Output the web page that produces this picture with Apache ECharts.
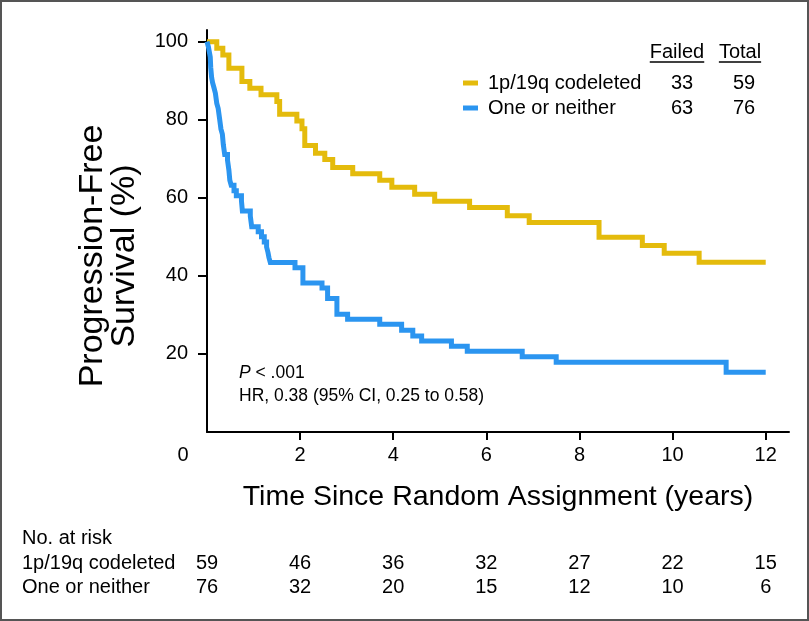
<!DOCTYPE html>
<html><head><meta charset="utf-8">
<script src="https://cdn.jsdelivr.net/npm/echarts@6/dist/echarts.min.js"></script>
<style>html,body{margin:0;padding:0;background:#fff}#c{width:809px;height:621px}</style>
</head><body><div id="c"></div>
<script>
// ---- data ----
const groupNames = ['1p/19q codeleted', 'One or neither'];
const failedCounts = [33, 63];
const totalCounts = [59, 76];
const xTicks = [0, 2, 4, 6, 8, 10, 12];
const yTicks = [20, 40, 60, 80, 100];
const riskYears = [0, 2, 4, 6, 8, 10, 12];
const riskCodeleted = [59, 46, 36, 32, 27, 22, 15];
const riskOther = [76, 32, 20, 15, 12, 10, 6];

const codelTime = [0, 0.21, 0.34, 0.47, 0.75, 0.92, 1.16, 1.50, 1.56, 1.93, 2.04, 2.10, 2.33, 2.53, 2.70, 3.13, 3.71, 3.97, 4.46, 4.89, 5.64, 6.45, 6.92, 8.42, 9.35, 9.82, 10.57, 12.0];
const codelSurv = [100, 98.3, 96.6, 93.2, 89.8, 88.1, 86.4, 84.7, 81.4, 79.7, 77.7, 73.4, 71.4, 69.8, 67.8, 66.2, 64.5, 62.7, 60.9, 59.1, 57.5, 55.4, 53.7, 49.9, 47.8, 45.8, 43.5, 43.5];

const otherTime = [0, 0.03, 0.05, 0.07, 0.08, 0.10, 0.12, 0.15, 0.18, 0.21, 0.24, 0.27, 0.30, 0.33, 0.35, 0.38, 0.44, 0.47, 0.49, 0.52, 0.58, 0.63, 0.74, 0.76, 0.93, 0.96, 1.10, 1.17, 1.23, 1.28, 1.31, 1.33, 1.36, 1.89, 2.06, 2.47, 2.59, 2.79, 3.02, 3.71, 4.18, 4.42, 4.61, 5.25, 5.59, 6.77, 7.50, 11.15, 12.0];
const otherSurv = [100, 98.7, 97.4, 96.1, 93.4, 90.8, 89.5, 88.2, 86.8, 84.2, 82.9, 80.3, 77.6, 76.3, 73.7, 71.1, 69.7, 67.1, 64.5, 63.2, 61.8, 60.5, 59.2, 56.6, 55.3, 52.6, 51.3, 50.0, 48.7, 47.4, 46.0, 44.7, 43.4, 42.1, 38.2, 36.9, 34.2, 30.2, 28.9, 27.6, 26.1, 24.6, 23.3, 22.0, 20.7, 19.3, 17.9, 15.3, 15.3];

// ---- styles ----
const YELLOW = '#E4BB0C';
const BLUE = '#2B95F0';
const FONT = '"Liberation Sans", Arial, sans-serif';

const zip = (a, b) => a.map((v, i) => [v, b[i]]);
const chart = echarts.init(document.getElementById('c'), null, {renderer: 'canvas'});

const option = {
  animation: false,
  backgroundColor: '#fff',
  grid: {left: 207, right: 20, top: 30, bottom: 189},
  xAxis: {
    type: 'value', min: 0, max: 12.5, interval: 2,
    splitLine: {show: false},
    axisLine: {lineStyle: {color: '#000', width: 2}},
    axisTick: {length: 8, lineStyle: {color: '#000', width: 2}, customValues: xTicks.filter(v => v > 0)},
    axisLabel: {
      customValues: xTicks, margin: 13, color: '#000', fontSize: 20, fontFamily: FONT,
      formatter: v => v === 0 ? '{z|0}' : String(v),
      rich: {z: {fontSize: 20, fontFamily: FONT, color: '#000', padding: [0, 48, 0, 0]}}
    },
    name: 'Time Since Random Assignment (years)', nameLocation: 'middle', nameGap: 51,
    nameTextStyle: {fontSize: 28.5, fontFamily: FONT, color: '#000'}
  },
  yAxis: {
    type: 'value', min: 0, max: 103, interval: 20,
    splitLine: {show: false},
    axisLine: {lineStyle: {color: '#000', width: 2}},
    axisTick: {length: 9, lineStyle: {color: '#000', width: 2}, customValues: yTicks},
    axisLabel: {customValues: yTicks, margin: 19, color: '#000', fontSize: 20, fontFamily: FONT},
    name: 'Progression-Free\nSurvival (%)', nameLocation: 'middle', nameGap: 66,
    nameTextStyle: {fontSize: 34, fontFamily: FONT, color: '#000', lineHeight: 32, padding: [0, 50, 0, 0]}
  },
  legend: {
    data: groupNames, orient: 'vertical', left: 458, top: 68,
    icon: 'rect', itemWidth: 15, itemHeight: 5, itemGap: 5,
    formatter: name => {
      const i = groupNames.indexOf(name);
      return '{n|' + name + '}{f|' + failedCounts[i] + '}{t|' + totalCounts[i] + '}';
    },
    textStyle: {
      fontSize: 20, fontFamily: FONT, color: '#000', lineHeight: 20,
      rich: {
        n: {fontSize: 20, fontFamily: FONT, color: '#000', width: 165, padding: [0, 0, 0, 5]},
        f: {fontSize: 20, fontFamily: FONT, color: '#000', width: 58, align: 'center'},
        t: {fontSize: 20, fontFamily: FONT, color: '#000', width: 66, align: 'center'}
      }
    }
  },
  series: [
    {name: groupNames[0], type: 'line', step: 'end', showSymbol: false, data: zip(codelTime, codelSurv),
     color: YELLOW, lineStyle: {width: 5, color: YELLOW, join: 'miter', cap: 'butt'}, z: 3},
    {name: groupNames[1], type: 'line', step: 'end', showSymbol: false, data: zip(otherTime, otherSurv),
     color: BLUE, lineStyle: {width: 5, color: BLUE, join: 'miter', cap: 'butt'}, z: 4}
  ]
};
chart.setOption(option);

// ---- annotations / risk table built from the axis scale ----
const ctx = document.createElement('canvas').getContext('2d');
ctx.font = '20px ' + FONT;
const headers = [{text: 'Failed', cx: 677}, {text: 'Total', cx: 740}];
const g = [];
g.push({type: 'rect', shape: {x: 1, y: 1, width: 807, height: 619}, style: {fill: 'none', stroke: '#555', lineWidth: 2}, silent: true});
headers.forEach(h => {
  const w = ctx.measureText(h.text).width;
  g.push({type: 'text', x: h.cx, y: 52, style: {text: h.text, fontSize: 20, fontFamily: FONT, fill: '#000', align: 'center', verticalAlign: 'middle'}});
  g.push({type: 'line', shape: {x1: h.cx - w / 2, y1: 62, x2: h.cx + w / 2, y2: 62}, style: {stroke: '#000', lineWidth: 1.5}});
});
g.push({type: 'text', x: 239, y: 373, style: {text: '{i|P} < .001', fontSize: 17.5, fontFamily: FONT, fill: '#000', verticalAlign: 'middle',
  rich: {i: {fontStyle: 'italic', fontSize: 17.5, fontFamily: FONT, fill: '#000'}}}});
g.push({type: 'text', x: 239, y: 396, style: {text: 'HR, 0.38 (95% CI, 0.25 to 0.58)', fontSize: 17.5, fontFamily: FONT, fill: '#000', verticalAlign: 'middle'}});

g.push({type: 'text', x: 22, y: 538, style: {text: 'No. at risk', fontSize: 20, fontFamily: FONT, fill: '#000', verticalAlign: 'middle'}});
[[groupNames[0], riskCodeleted, 563], [groupNames[1], riskOther, 587]].forEach(([nm, arr, y]) => {
  g.push({type: 'text', x: 22, y: y, style: {text: nm, fontSize: 20, fontFamily: FONT, fill: '#000', verticalAlign: 'middle'}});
  arr.forEach((n, i) => {
    const px = chart.convertToPixel({xAxisIndex: 0}, riskYears[i]);
    g.push({type: 'text', x: px, y: y, style: {text: String(n), fontSize: 20, fontFamily: FONT, fill: '#000', align: 'center', verticalAlign: 'middle'}});
  });
});
chart.setOption({graphic: g});
</script></body></html>
